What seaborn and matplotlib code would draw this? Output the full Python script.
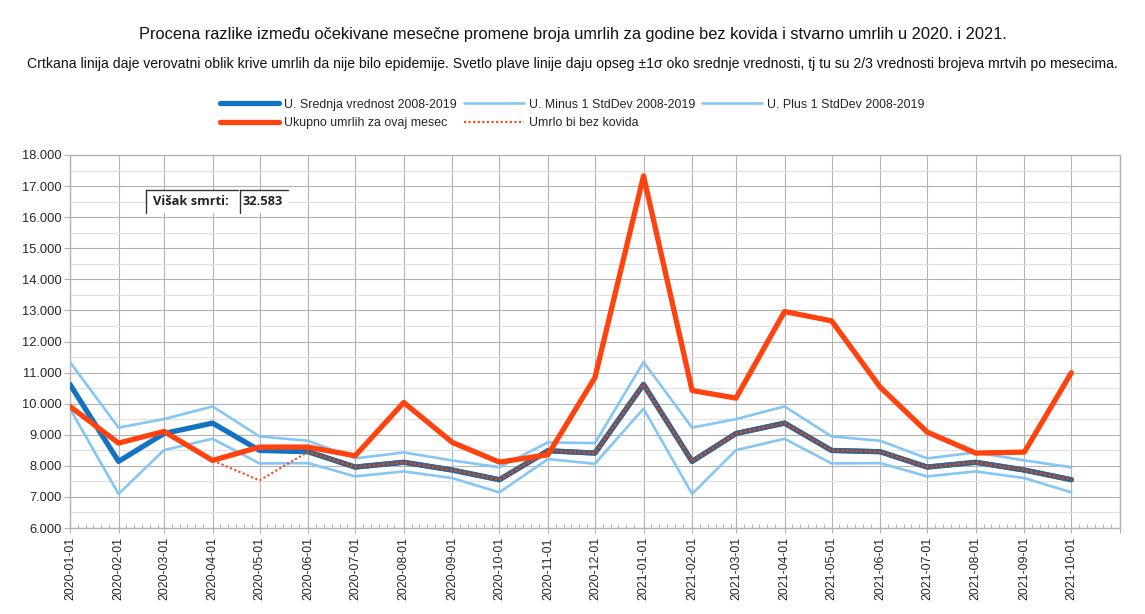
import pandas as pd
import numpy as np
import matplotlib
matplotlib.use('Agg')
import matplotlib.pyplot as plt
import matplotlib.dates as mdates
from matplotlib.ticker import MultipleLocator, FuncFormatter
from matplotlib.lines import Line2D
from matplotlib.patches import Rectangle
import seaborn as sns

sns.set_theme(style='white')
plt.rcParams['font.family'] = ['Liberation Sans', 'DejaVu Sans']

# months shown on the chart
months = ['2020-01-01', '2020-02-01', '2020-03-01', '2020-04-01', '2020-05-01', '2020-06-01',
          '2020-07-01', '2020-08-01', '2020-09-01', '2020-10-01', '2020-11-01', '2020-12-01',
          '2021-01-01', '2021-02-01', '2021-03-01', '2021-04-01', '2021-05-01', '2021-06-01',
          '2021-07-01', '2021-08-01', '2021-09-01', '2021-10-01']

# mean 2008-2019 and +-1 std dev (same months repeat for 2021)
srednja = [10620, 8143, 9040, 9375, 8496, 8455, 7961, 8115, 7865, 7554, 8486, 8411,
           10620, 8143, 9040, 9375, 8496, 8455, 7961, 8115, 7865, 7554]
minus_sd = [9840, 7098, 8507, 8871, 8078, 8089, 7661, 7821, 7607, 7146, 8218, 8068,
            9840, 7098, 8507, 8871, 8078, 8089, 7661, 7821, 7607, 7146]
plus_sd = [11340, 9230, 9504, 9911, 8946, 8807, 8240, 8432, 8175, 7955, 8754, 8732,
           11340, 9230, 9504, 9911, 8946, 8807, 8240, 8432, 8175, 7955]

# actual deaths per month
ukupno = [9911, 8732, 9107, 8175, 8604, 8604, 8325, 10039, 8754, 8121, 8357, 10843,
          17325, 10425, 10179, 12964, 12664, 10532, 9086, 8411, 8443, 10996]

# expected deaths without covid
bez_kovida = [9911, 8732, 9107, 8175, 7532, 8455, 7961, 8115, 7865, 7554, 8486, 8411,
              10620, 8143, 9040, 9375, 8496, 8455, 7961, 8115, 7865, 7554]

visak = 32583

df = pd.DataFrame({'mesec': pd.to_datetime(months), 'srednja': srednja, 'minus': minus_sd,
                   'plus': plus_sd, 'ukupno': ukupno, 'bez': bez_kovida})

c_mean = '#1273c2'
c_light = '#85c6f4'
c_red = '#ff420e'
c_grid = '#b3b3b3'

fig = plt.figure(figsize=(11.45, 6.14), dpi=100)
ax = fig.add_axes([0.0611, 0.140, 0.9170, 0.6076])

sns.lineplot(data=df, x='mesec', y='srednja', ax=ax, color=c_mean, lw=3.8,
             label='U. Srednja vrednost 2008-2019', zorder=4)
sns.lineplot(data=df, x='mesec', y='minus', ax=ax, color=c_light, lw=1.9,
             label='U. Minus 1 StdDev 2008-2019', zorder=3)
sns.lineplot(data=df, x='mesec', y='plus', ax=ax, color=c_light, lw=1.9,
             label='U. Plus 1 StdDev 2008-2019', zorder=3)
sns.lineplot(data=df, x='mesec', y='ukupno', ax=ax, color=c_red, lw=3.8,
             label='Ukupno umrlih za ovaj mesec', zorder=7)
# dark look where the dotted line lies on the mean
sns.lineplot(data=df.iloc[5:], x='mesec', y='bez', ax=ax, color='#3f6181', lw=3.6,
             legend=False, zorder=5)
sns.lineplot(data=df, x='mesec', y='bez', ax=ax, color=c_red, lw=1.5,
             linestyle=(0, (1, 1.2)), label='Umrlo bi bez kovida', zorder=6)

ax.set_xlim(pd.Timestamp('2020-01-01'), pd.Timestamp('2021-11-01'))
ax.set_ylim(6000, 18000)
ax.set_xlabel('')
ax.set_ylabel('')

ax.xaxis.set_major_locator(mdates.MonthLocator())
ax.xaxis.set_major_formatter(mdates.DateFormatter('%Y-%m-%d'))
ax.xaxis.set_minor_locator(mdates.DayLocator(bymonthday=[6, 11, 16, 21, 26]))
ax.yaxis.set_major_locator(MultipleLocator(1000))
ax.yaxis.set_minor_locator(MultipleLocator(500))
ax.yaxis.set_major_formatter(FuncFormatter(lambda v, p: f'{int(v):,}'.replace(',', '.')))

ax.grid(which='major', axis='both', color=c_grid, lw=0.8)
ax.grid(which='minor', axis='y', color='#e0e0e0', lw=0.8)
ax.set_axisbelow(True)
for s in ax.spines.values():
    s.set_color(c_grid)
    s.set_linewidth(1.0)

ax.tick_params(axis='y', which='major', direction='out', length=4, width=0.8, color=c_grid,
               labelsize=9.3, pad=2, left=True)
ax.tick_params(axis='y', which='minor', length=0)
ax.tick_params(axis='x', which='major', direction='inout', length=7, width=0.8, color=c_grid,
               labelsize=8.9, pad=3, labelrotation=90, bottom=True)
ax.tick_params(axis='x', which='minor', direction='in', length=3, width=0.7, color=c_grid,
               bottom=True)
fig.canvas.draw()
xlabs = ax.get_xticklabels()
for lab in xlabs:
    lab.set_verticalalignment('top')
xlabs[-1].set_visible(False)

ax.get_legend().remove()
h, l = ax.get_legend_handles_labels()
order = [0, 3, 1, 4, 2]
fig.legend([h[i] for i in order], [l[i] for i in order], loc='center', ncol=3,
           bbox_to_anchor=(0.4996, 1 - 114 / 614), frameon=False, fontsize=8.9,
           handlelength=4.8, handletextpad=0.4, columnspacing=0.6, labelspacing=0.55)

fig.text(0.5, 1 - 34 / 614,
         'Procena razlike između očekivane mesečne promene broja umrlih za godine bez kovida i stvarno umrlih u 2020. i 2021.',
         ha='center', va='center', fontsize=11.8, color='#111111')
fig.text(0.4996, 1 - 64 / 614,
         'Crtkana linija daje verovatni oblik krive umrlih da nije bilo epidemije. Svetlo plave linije daju opseg ±1σ oko srednje vrednosti, tj tu su 2/3 vrednosti brojeva mrtvih po mesecima.',
         ha='center', va='center', fontsize=10.1, color='#111111')

# "Višak smrti" cells
W, H = 1145, 614
def px(x, y):
    return x / W, 1 - y / H
x0, y0 = px(146, 213)
fig.add_artist(Rectangle((x0, y0), 142 / W, 23 / H, transform=fig.transFigure,
                         facecolor='white', edgecolor='none', zorder=10))
for (xa, ya, xb, yb) in [(146, 190, 146, 213), (146, 190, 238, 190),
                         (240, 190, 240, 213), (240, 190, 288, 190)]:
    fig.add_artist(Line2D([xa / W, xb / W], [1 - ya / H, 1 - yb / H], transform=fig.transFigure,
                          color='#333333', lw=1.0, zorder=11))
fig.text(153 / W, 1 - 202 / H, 'Višak smrti:', ha='left', va='center', fontsize=9.3,
         fontweight='bold', family=['Open Sans', 'DejaVu Sans'], color='#222222', zorder=12)
fig.text(243 / W, 1 - 202 / H, f'{visak:,}'.replace(',', '.'), ha='left', va='center',
         fontsize=9.3, fontweight='bold', family=['Open Sans', 'DejaVu Sans'],
         color='#222222', zorder=12)

fig.savefig('out.png', dpi=100, facecolor='white')
